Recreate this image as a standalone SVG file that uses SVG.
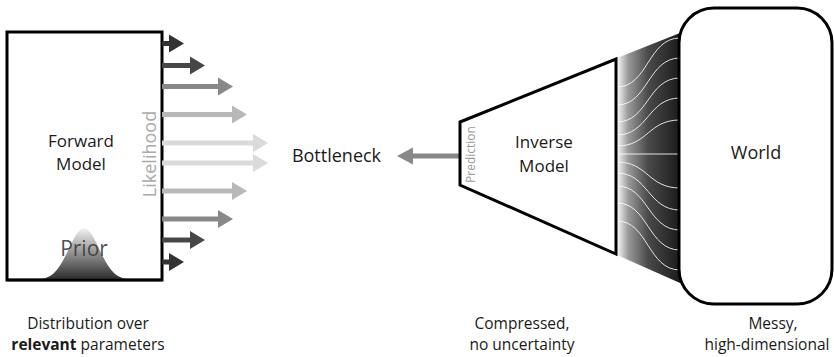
<svg xmlns="http://www.w3.org/2000/svg" width="834" height="357" viewBox="0 0 834 357">
<style>
  text { font-family: "Open Sans", "Noto Sans", "Liberation Sans", sans-serif; fill: #1a1a1a; }
  .lbl { font-size: 17px; text-anchor: middle; }
  .cap { font-size: 15.5px; text-anchor: middle; }
  .outline { fill: #fff; stroke: #000; stroke-width: 3; stroke-linejoin: miter; }
  .a1 { fill: #333; } .a2 { fill: #474747; } .a3 { fill: #888; } .a4 { fill: #b8b8b8; } .a5 { fill: #dadada; }
  .fan { fill: none; stroke: #fff; stroke-width: 1; opacity: 0.85; }
</style>
<defs>
  <linearGradient id="gPrior" x1="0" y1="0" x2="0" y2="1">
    <stop offset="0" stop-color="#f2f2f2"/>
    <stop offset="1" stop-color="#2a2a2a"/>
  </linearGradient>
  <linearGradient id="gFan" gradientUnits="userSpaceOnUse" x1="617" y1="0" x2="679" y2="0">
    <stop offset="0" stop-color="#fafafa"/>
    <stop offset="0.18" stop-color="#9a9a9a"/>
    <stop offset="0.5" stop-color="#4a4a4a"/>
    <stop offset="1" stop-color="#1c1c1c"/>
  </linearGradient>
</defs>

<g id="forward-model">
  <rect class="outline" x="7" y="32" width="155" height="248" stroke-width="2.5"/>
  <path fill="url(#gPrior)" d="M42,279 L45,278.2 48,277.1 51,275.4 54,273 57,269.7 60,265.5 63,260.5 66,254.7 69,248.4 72,242.2 75,236.6 78,232 81,229 84,228 87,229 90,232 93,236.6 96,242.2 99,248.4 102,254.7 105,260.5 108,265.5 111,269.7 114,273 117,275.4 120,277.1 123,278.2 126,279 126,280 42,280 Z"/>
  <line x1="7" y1="280" x2="162" y2="280" stroke="#000" stroke-width="2.5"/>
  <text class="lbl" x="81" y="146.5">Forward</text>
  <text class="lbl" x="81" y="169.5">Model</text>
  <text x="84" y="255.5" style="font-size:21px;text-anchor:middle;fill:#3a3a3a;fill-opacity:0.9">Prior</text>
  <text transform="translate(155.5,154) rotate(-90)" style="font-size:18px;text-anchor:middle;fill:#aaa">Likelihood</text>
</g>

<g id="connectors">
  <path class="a1" d="M162,41 H169 V34.5 L184,43.5 L169,52.5 V46 H162 Z"/>
  <path class="a2" d="M162,63 H190 V56.5 L205,65.5 L190,74.5 V68 H162 Z"/>
  <path class="a3" d="M162,84 H218 V77.5 L233,86.5 L218,95.5 V89 H162 Z"/>
  <path class="a4" d="M162,112 H232 V105.5 L247,114.5 L232,123.5 V117 H162 Z"/>
  <path class="a5" d="M162,140.5 H253 V134 L268,143 L253,152 V145.5 H162 Z"/>
  <path class="a5" d="M162,160.5 H253 V154 L268,163 L253,172 V165.5 H162 Z"/>
  <path class="a4" d="M162,188.5 H232 V182 L247,191 L232,200 V193.5 H162 Z"/>
  <path class="a3" d="M162,216.5 H218 V210 L233,219 L218,228 V221.5 H162 Z"/>
  <path class="a2" d="M162,237.5 H190 V231 L205,240 L190,249 V242.5 H162 Z"/>
  <path class="a1" d="M162,259.5 H169 V253 L184,262 L169,271 V264.5 H162 Z"/>
  <path class="a3" d="M460,153.5 H413 V147.5 L397,156 L413,164.5 V158.5 H460 Z"/>
</g>

<g id="bottleneck">
  <text class="lbl" x="336.5" y="161.5" style="font-size:18px">Bottleneck</text>
</g>

<g id="inverse-model">
  <path fill="url(#gFan)" d="M617,58 L680,33 L680,283 L617,255 Z"/>
  <g class="fan">
    <path d="M617,154 H680"/>
    <path d="M617,87 C648,87 648,38 680,38"/>
    <path d="M617,105 C648,105 648,58 680,58"/>
    <path d="M617,122 C648,122 648,78 680,78"/>
    <path d="M617,135 C648,135 648,98 680,98"/>
    <path d="M617,146 C648,146 648,120 680,120"/>
    <path d="M617,162 C648,162 648,188 680,188"/>
    <path d="M617,173 C648,173 648,210 680,210"/>
    <path d="M617,186 C648,186 648,230 680,230"/>
    <path d="M617,203 C648,203 648,250 680,250"/>
    <path d="M617,221 C648,221 648,270 680,270"/>
  </g>
  <path class="outline" d="M460,122 L616,59 L616,254 L460,185 Z"/>
  <text class="lbl" x="544" y="148">Inverse</text>
  <text class="lbl" x="544" y="171.5">Model</text>
  <text transform="translate(475,154.5) rotate(-90)" style="font-size:12px;text-anchor:middle;fill:#999">Prediction</text>
</g>

<g id="world">
  <rect class="outline" x="679" y="8" width="153" height="296" rx="35" ry="35"/>
  <text class="lbl" x="756" y="159" style="font-size:18px">World</text>
</g>

<g id="captions">
  <text class="cap" x="88" y="329">Distribution over</text>
  <text class="cap" x="88" y="350"><tspan font-weight="bold">relevant</tspan> parameters</text>
  <text class="cap" x="522" y="329">Compressed,</text>
  <text class="cap" x="522" y="350">no uncertainty</text>
  <text class="cap" x="773" y="329">Messy,</text>
  <text class="cap" x="767" y="350">high-dimensional</text>
</g>
</svg>
